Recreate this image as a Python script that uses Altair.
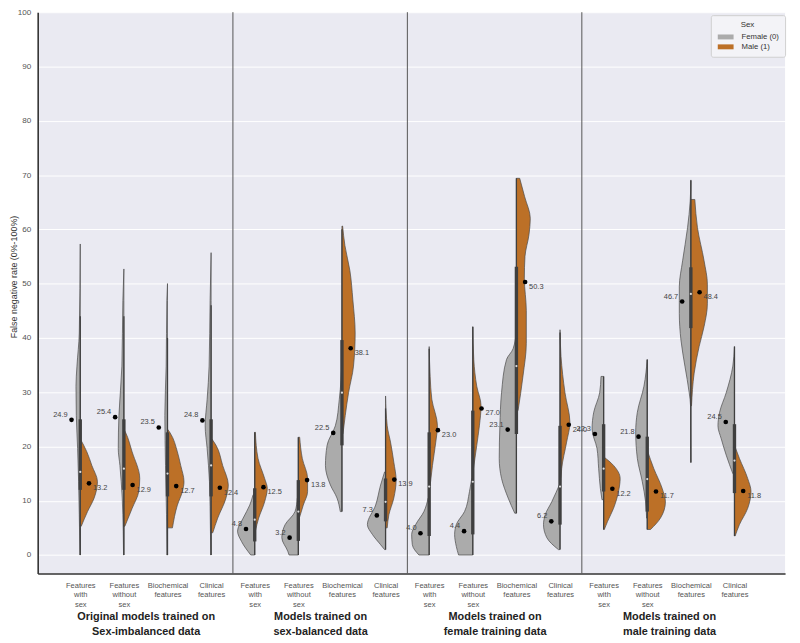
import json
import altair as alt
import pandas as pd

# ---------------- data ----------------
categories = ["Features|with|sex", "Features|without|sex", "Biochemical|features", "Clinical|features"]
groups = ["Original models trained on|Sex-imbalanced data",
          "Models trained on|sex-balanced data",
          "Models trained on|female training data",
          "Models trained on|male training data"]
sexes = ["Female (0)", "Male (1)"]

female_mean = [24.9, 25.4, 23.5, 24.8, 4.8, 3.2, 22.5, 7.3, 4.0, 4.4, 23.1, 6.2, 22.3, 21.8, 46.7, 24.5]
male_mean = [13.2, 12.9, 12.7, 12.4, 12.5, 13.8, 38.1, 13.9, 23.0, 27.0, 50.3, 24.0, 12.2, 11.7, 48.4, 11.8]

box_q1 = [12.0, 12.0, 10.8, 10.8, 2.5, 2.6, 20.2, 6.2, 3.5, 3.8, 22.3, 5.6, 11.7, 8.0, 41.8, 11.4]
box_median = [15.3, 15.9, 15.0, 16.5, 6.5, 8.0, 29.9, 9.8, 12.6, 13.5, 34.8, 12.6, 15.9, 14.0, 48.1, 17.4]
box_q3 = [25.0, 25.0, 22.6, 25.0, 12.3, 13.8, 39.6, 14.1, 22.6, 26.6, 53.1, 23.8, 24.1, 21.8, 53.0, 24.1]
whisker_lo = [0, 0, 0, 0, 0, 0, 8.0, 1.0, 0, 0, 7.7, 1.0, 4.7, 4.7, 17.0, 3.5]
whisker_hi = [44, 44, 40, 46, 22.6, 21.7, 60.0, 27.0, 38.0, 42.0, 69.4, 41.0, 32.9, 36.0, 69.0, 38.4]

# density profiles: (rate, relative half-width)
female_density = [
    [(57.3, 0), (40.9, 3), (34.8, 10), (31.1, 13), (25.7, 12), (19.6, 8), (13.5, 5), (7.4, 3), (0, 1)],
    [(52.7, 0), (46.9, 3), (34.8, 6), (25.7, 15), (19.6, 17), (16.5, 12), (10.5, 5), (4.4, 2), (0, 1)],
    [(50.0, 0), (46.9, 2), (34.8, 4), (25.7, 8), (16.5, 6), (7.4, 3), (0, 2)],
    [(55.7, 0), (46.9, 3), (34.8, 6), (28.7, 12), (23.8, 18), (19.6, 12), (13.5, 5), (4.4, 2), (0, 1)],
    [(11.1, 5), (9.2, 15), (6.8, 35), (4.4, 52), (2.5, 40), (0, 12)],
    [(10.5, 3), (8.0, 10), (5.6, 40), (3.2, 50), (0.7, 32), (0, 28)],
    [(35.7, 0), (28.7, 8), (23.8, 20), (20.2, 45), (16.5, 50), (12.9, 35), (10.5, 15), (8.0, 5)],
    [(15.3, 3), (12.9, 15), (9.2, 30), (5.6, 55), (3.8, 40), (1.9, 15), (1.0, 3)],
    [(10.5, 3), (8.0, 16), (5.6, 41), (3.8, 53), (1.9, 51), (0, 31)],
    [(14.1, 3), (11.7, 10), (8.0, 25), (5.6, 50), (3.8, 55), (1.6, 50), (0, 43)],
    [(41.5, 0), (38.0, 10), (36.0, 30), (29.9, 45), (23.8, 50), (17.8, 52), (14.1, 45), (10.5, 25), (7.7, 5)],
    [(13.2, 0), (9.8, 25), (7.4, 45), (5.6, 50), (3.2, 40), (1.0, 5)],
    [(32.9, 8), (29.9, 12), (26.3, 30), (23.2, 35), (19.6, 20), (15.9, 15), (12.3, 10), (10.2, 5)],
    [(36.0, 0), (31.1, 10), (26.3, 30), (22.6, 35), (17.8, 30), (13.5, 15), (9.8, 5), (6.8, 2)],
    [(69.1, 0), (65.2, 2), (60.3, 10), (54.2, 25), (49.4, 35), (44.5, 35), (39.6, 30), (34.8, 18),
     (29.9, 5), (27.5, 1), (23.8, 1), (17.1, 0)],
    [(38.4, 0), (34.8, 5), (29.9, 25), (26.3, 45), (23.8, 50), (21.4, 40), (18.4, 25), (15.0, 5)],
]
male_density = [
    [(21.4, 0), (19.0, 20), (16.5, 35), (13.5, 52), (10.5, 42), (8.0, 22), (5.3, 3)],
    [(23.2, 0), (22.6, 5), (19.0, 25), (14.1, 48), (11.7, 45), (8.6, 25), (5.3, 3)],
    [(23.2, 0), (22.5, 8), (19.0, 30), (16.5, 40), (13.5, 50), (11.7, 45), (9.2, 30), (5.0, 15)],
    [(21.4, 2), (20.2, 15), (16.5, 35), (12.9, 52), (10.5, 45), (6.8, 20), (4.1, 5)],
    [(22.6, 2), (17.8, 10), (14.1, 30), (12.3, 38), (9.8, 30), (6.8, 12), (4.4, 2)],
    [(21.7, 4), (17.8, 12), (14.1, 28), (11.7, 28), (9.2, 15), (6.8, 3)],
    [(60.6, 2), (57.0, 9), (52.4, 24), (47.0, 33), (40.9, 40), (34.8, 35), (29.9, 20), (25.7, 10), (22.3, 3)],
    [(29.3, 0), (23.8, 5), (20.8, 15), (17.1, 25), (13.8, 32), (10.5, 25), (7.4, 10), (5.0, 5)],
    [(38.4, 0), (32.9, 3), (28.7, 8), (23.8, 25), (20.8, 20), (16.5, 10), (12.3, 2)],
    [(42.1, 0), (36.0, 3), (31.1, 12), (27.5, 25), (23.8, 20), (20.2, 12), (15.9, 2)],
    [(69.4, 10), (66.0, 25), (62.0, 42), (59.0, 38), (55.0, 26), (51.0, 24), (45.0, 30), (39.0, 30),
     (33.0, 20), (26.6, 5)],
    [(41.5, 0), (36.6, 3), (29.9, 15), (24.4, 30), (20.8, 20), (15.9, 5), (12.3, 2)],
    [(18.1, 0), (16.5, 30), (14.1, 50), (11.7, 45), (8.6, 30), (6.2, 12), (4.7, 2)],
    [(19.3, 0), (15.9, 20), (12.3, 45), (9.8, 55), (6.8, 40), (4.7, 10)],
    [(65.5, 12), (60.3, 20), (54.2, 40), (49.9, 50), (46.3, 50), (42.1, 40), (38.4, 25), (33.5, 10), (27.5, 2)],
    [(20.2, 0), (17.8, 15), (14.1, 40), (11.7, 50), (8.6, 40), (5.6, 15), (3.5, 2)],
]

# ---------------- tables ----------------
WSCALE = 1 / 132.0   # relative width -> category units
MEAN_OFF = 0.2
n = len(female_mean)

rows = []
for i in range(n):
    for v, w in sorted(female_density[i]):
        rows.append(dict(vid=f"F{i:02d}", sex=sexes[0], v=v, x1=i - w * WSCALE, x2=float(i)))
    for v, w in sorted(male_density[i]):
        rows.append(dict(vid=f"M{i:02d}", sex=sexes[1], v=v, x1=float(i), x2=i + w * WSCALE))
vdf = pd.DataFrame(rows)

bdf = pd.DataFrame(dict(pos=[float(i) for i in range(n)], q1=box_q1, med=box_median, q3=box_q3,
                        lo=whisker_lo, hi=whisker_hi))

fdf = pd.DataFrame(dict(pos=[i - MEAN_OFF for i in range(n)], v=female_mean,
                        label=[f"{m:.1f}" for m in female_mean]))
mdf = pd.DataFrame(dict(pos=[i + MEAN_OFF for i in range(n)], v=male_mean,
                        label=[f"{m:.1f}" for m in male_mean]))

sep_df = pd.DataFrame(dict(pos=[3.5, 7.5, 11.5]))

# ---------------- scales / axes ----------------
XDOM = [-0.976, 16.16]
xscale = alt.Scale(domain=XDOM, nice=False, zero=False)
yscale = alt.Scale(domain=[-3.4, 100], nice=False, zero=False)

cat_expr = "split(" + json.dumps(categories) + "[round(datum.value) % 4], '|')"
grp_expr = "split(" + json.dumps(groups) + "[round((datum.value - 1.5) / 4)], '|')"

FONT = "Liberation Sans"

xaxis = alt.Axis(values=list(range(n)), labelExpr=cat_expr, title=None, grid=False, ticks=False,
                 labelAngle=0, labelAlign="center", labelBaseline="top", labelFontSize=7.6,
                 labelLineHeight=9.6, labelColor="#555555", labelPadding=8, labelFlush=False,
                 labelOverlap=False, labelBound=False, domain=True, domainColor="#333333",
                 domainWidth=1.6, orient="bottom")
yaxis = alt.Axis(values=list(range(0, 101, 10)), title="False negative rate (0%-100%)",
                 grid=True, gridColor="white", gridWidth=1, ticks=False, labelFontSize=8.2,
                 labelColor="#555555", labelPadding=7, titleFontSize=9, titleColor="#333333",
                 titleFontWeight="normal", titleX=-19, titleY=267, domain=True,
                 domainColor="#333333", domainWidth=1.6)
gaxis = alt.Axis(values=[1.5, 5.5, 9.5, 13.5], labelExpr=grp_expr, title=None, grid=False,
                 ticks=False, domain=False, labelAngle=0, labelAlign="center", labelBaseline="top",
                 labelFontSize=11, labelFontWeight="bold", labelColor="#222222",
                 labelLineHeight=15, labelPadding=38, labelFlush=False, labelOverlap=False,
                 labelBound=False, orient="bottom")

legend_symbol = "M-1.35,-0.42 L1.35,-0.42 L1.35,0.42 L-1.35,0.42 Z"
color = alt.Color("sex:N", scale=alt.Scale(domain=sexes, range=["#ABABAB", "#BC7027"]),
                  legend=alt.Legend(title="Sex", orient="none", legendX=680, legendY=3,
                                    fillColor="#F3F3F7", strokeColor="#CFCFCF", padding=6,
                                    cornerRadius=2, titleFontSize=8, titleFontWeight="normal",
                                    titleColor="#333333", titleAnchor="middle", titlePadding=2,
                                    labelFontSize=7.8, labelColor="#333333", labelOffset=10,
                                    symbolType=legend_symbol, symbolSize=140, symbolStrokeWidth=0,
                                    symbolOffset=3, rowPadding=0))

violins = alt.Chart(vdf).mark_area(orient="horizontal", stroke="#4a4a4a", strokeWidth=0.7,
                                   opacity=1, interpolate="monotone").encode(
    y=alt.Y("v:Q", scale=yscale, axis=yaxis),
    x=alt.X("x1:Q", scale=xscale, axis=xaxis, stack=None),
    x2="x2:Q",
    color=color,
    detail="vid:N",
)

whiskers = alt.Chart(bdf).mark_rule(color="#3f3f3f", strokeWidth=1.3).encode(
    x=alt.X("pos:Q", scale=xscale), y=alt.Y("lo:Q", scale=yscale), y2="hi:Q")
boxes = alt.Chart(bdf).mark_rule(color="#3f3f3f", strokeWidth=3.4).encode(
    x=alt.X("pos:Q", scale=xscale), y=alt.Y("q1:Q", scale=yscale), y2="q3:Q")
medians = alt.Chart(bdf).mark_point(filled=True, color="#dddddd", size=5, opacity=1).encode(
    x=alt.X("pos:Q", scale=xscale), y=alt.Y("med:Q", scale=yscale))

fpts = alt.Chart(fdf).mark_point(filled=True, color="black", size=22, opacity=1).encode(
    x=alt.X("pos:Q", scale=xscale), y=alt.Y("v:Q", scale=yscale))
mpts = alt.Chart(mdf).mark_point(filled=True, color="black", size=22, opacity=1).encode(
    x=alt.X("pos:Q", scale=xscale), y=alt.Y("v:Q", scale=yscale))
ftxt = alt.Chart(fdf).mark_text(align="right", dx=-4, dy=-5, fontSize=7.5, color="#444444",
                                font=FONT).encode(
    x=alt.X("pos:Q", scale=xscale), y=alt.Y("v:Q", scale=yscale), text="label:N")
mtxt = alt.Chart(mdf).mark_text(align="left", dx=4, dy=5, fontSize=7.5, color="#444444",
                                font=FONT).encode(
    x=alt.X("pos:Q", scale=xscale), y=alt.Y("v:Q", scale=yscale), text="label:N")

main = alt.layer(violins, whiskers, boxes, medians, fpts, mpts, ftxt, mtxt)

seps = alt.Chart(sep_df).mark_rule(color="#555555", strokeWidth=1).encode(
    x=alt.X("pos:Q", scale=alt.Scale(domain=XDOM, nice=False, zero=False), axis=gaxis))

chart = alt.layer(main, seps).resolve_scale(x="independent").resolve_axis(x="independent").properties(
    width=755, height=567,
    autosize=alt.AutoSizeParams(type="none"),
    padding={"left": 30, "top": 1, "right": 7, "bottom": 67},
).configure(
    font=FONT, background="white"
).configure_view(fill="#EAEAF2", strokeWidth=0)

chart.save("out.html", embed_options={"renderer": "svg", "actions": False})
